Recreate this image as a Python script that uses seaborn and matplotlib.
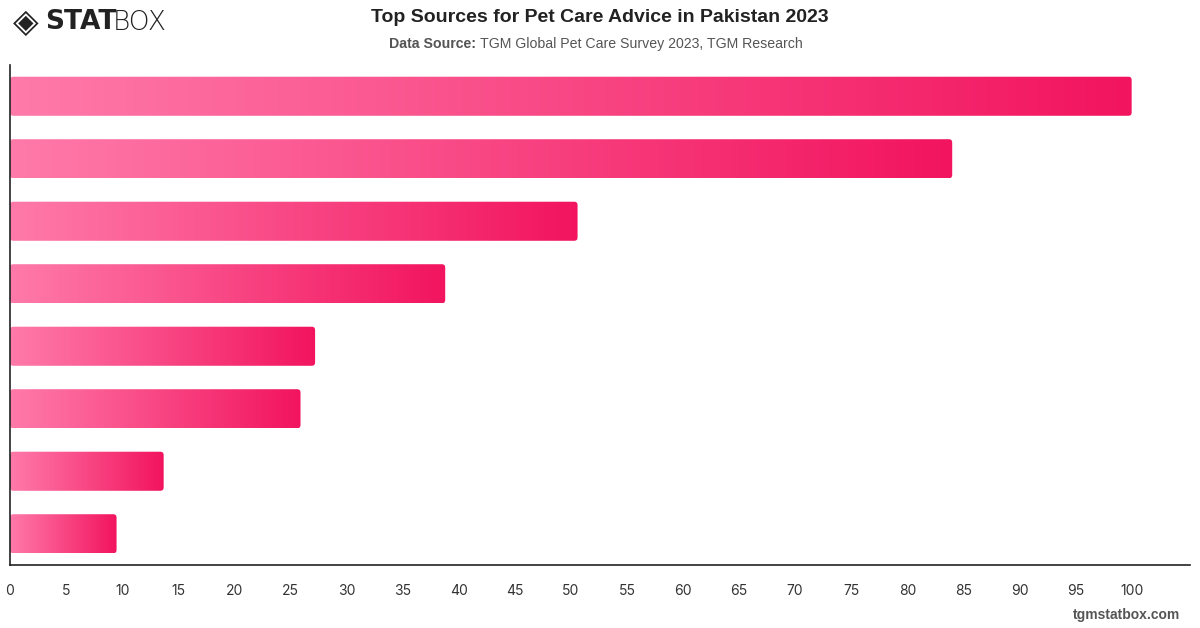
import numpy as np
import pandas as pd
import matplotlib
matplotlib.use("Agg")
import matplotlib.pyplot as plt
import seaborn as sns
from matplotlib.colors import LinearSegmentedColormap
from matplotlib.patches import FancyBboxPatch

# values (labels are not shown in the chart)
sources = ["Source 1", "Source 2", "Source 3", "Source 4",
           "Source 5", "Source 6", "Source 7", "Source 8"]
shares = [100, 84, 50.6, 38.8, 27.2, 25.9, 13.7, 9.5]
x_ticks = list(range(0, 101, 5))

df = pd.DataFrame({"source": sources, "share": shares})

sns.set_theme(style="white")
plt.rcParams["font.family"] = ["Inter", "DejaVu Sans"]

fig = plt.figure(figsize=(12, 6.28), dpi=100)
ax = fig.add_axes([10 / 1200, 63 / 628, 1180 / 1200, 500 / 628])

sns.barplot(data=df, x="share", y="source", orient="h", width=0.625,
            color="#f73b7d", ax=ax)

ax.set_xlim(0, 105.2)
ax.set_ylim(7.5, -0.5)

grad = LinearSegmentedColormap.from_list("pink", ["#ff7aa9", "#f2145f"])
# x unit ~11.2px, y unit ~62.5px -> aspect to keep corners round
aspect = 11.2 / 62.5
for p in list(ax.patches):
    x0, y0 = p.get_x(), p.get_y()
    w, h = p.get_width(), p.get_height()
    p.set_visible(False)
    clip = FancyBboxPatch((x0, y0), w, h,
                          boxstyle="round,pad=0,rounding_size=0.3",
                          mutation_aspect=aspect,
                          transform=ax.transData, facecolor="none",
                          edgecolor="none")
    ax.add_patch(clip)
    img = ax.imshow(np.linspace(0, 1, 256).reshape(1, -1), cmap=grad,
                    aspect="auto", extent=(x0, x0 + w, y0 + h, y0),
                    interpolation="bilinear", zorder=2)
    img.set_clip_path(clip)

ax.set_xlim(0, 105.2)
ax.set_ylim(7.5, -0.5)
ax.set_xticks(x_ticks)
ax.set_xticklabels([str(t) for t in x_ticks], fontsize=10, color="#333333")
ax.tick_params(axis="x", length=0, pad=14)
ax.set_yticks([])
ax.set_xlabel("")
ax.set_ylabel("")
for side in ["top", "right"]:
    ax.spines[side].set_visible(False)
for side in ["left", "bottom"]:
    ax.spines[side].set_color("#222222")
    ax.spines[side].set_linewidth(1.2)

hdr_font = ["Liberation Sans", "DejaVu Sans"]

# header
fig.text(0.5, 1 - 17.5 / 628, "Top Sources for Pet Care Advice in Pakistan 2023",
         ha="center", va="center", fontsize=14, fontweight="bold",
         color="#222222", family=hdr_font)
fig.text(476 / 1200, 1 - 44 / 628, "Data Source:", ha="right", va="center",
         fontsize=10.2, fontweight="bold", color="#555555", family=hdr_font)
fig.text(480 / 1200, 1 - 44 / 628,
         "TGM Global Pet Care Survey 2023, TGM Research",
         ha="left", va="center", fontsize=10.2, color="#555555",
         family=hdr_font)

# logo
fig.text(13 / 1200, 1 - 22 / 628, "\u25C8", ha="left", va="center",
         fontsize=24, color="#222222", family=["DejaVu Sans"])
fig.text(45 / 1200, 1 - 22 / 628, "STAT", ha="left", va="center",
         fontsize=19, fontweight="heavy", color="#222222",
         family=["DejaVu Sans"])
fig.text(113 / 1200, 1 - 22 / 628, "BOX", ha="left", va="center",
         fontsize=19, fontweight="light", color="#222222",
         family=["DejaVu Sans"])

# footer
fig.text(1180 / 1200, 1 - 615 / 628, "tgmstatbox.com", ha="right",
         va="center", fontsize=10, fontweight="bold", color="#555555",
         family=hdr_font)

fig.savefig("out.png", dpi=100, facecolor="white")
